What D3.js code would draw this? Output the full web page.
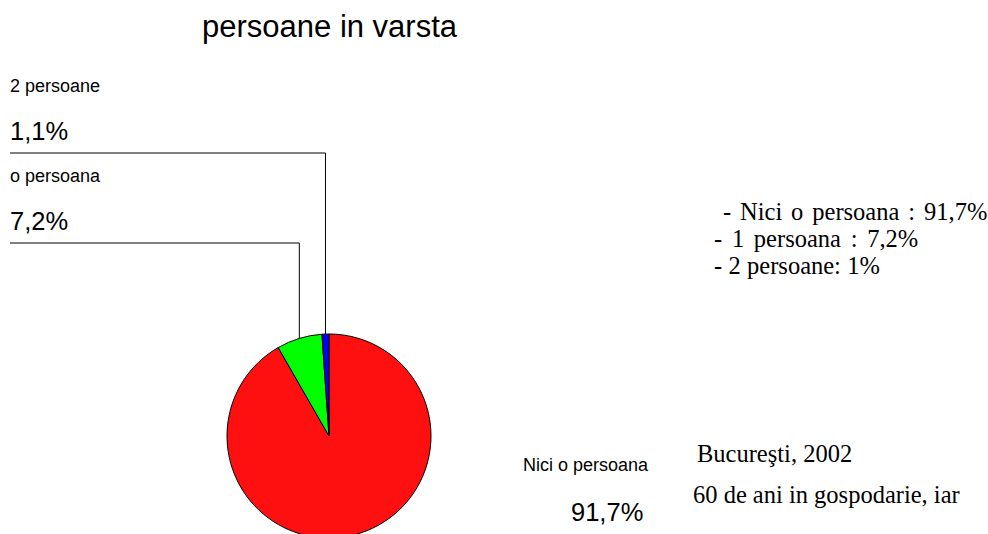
<!DOCTYPE html>
<html>
<head>
<meta charset="utf-8">
<script src="https://cdn.jsdelivr.net/npm/d3@7"></script>
<style>
  body { margin: 0; background: #fff; }
  svg { display: block; }
</style>
</head>
<body>
<div id="chart"></div>
<script>
// data
var categories = ["Nici o persoana", "1 persoana", "2 persoane"];
var values = [91.7, 7.2, 1.1];
var sliceLabels = ["Nici o persoana", "o persoana", "2 persoane"];
var pctLabels = ["91,7%", "7,2%", "1,1%"];
var colors = ["#ff1010", "#00ff00", "#0000ff"];
var noteLines = [" - Nici o persoana : 91,7%", "- 1 persoana : 7,2%", "- 2 persoane: 1%"];
var footLines = ["Bucureşti, 2002", "60 de ani in gospodarie, iar"];
var title = "persoane in varsta";

(function piechart() {
  var width = 988, height = 534;
  var cx = 329, cy = 436, radius = 102;
  var sans = "Liberation Sans, Arial, sans-serif";
  var serif = "Liberation Serif, Times New Roman, serif";

  var svg = d3.select("#chart").append("svg")
    .attr("width", width)
    .attr("height", height);

  svg.append("text")
    .attr("x", 202)
    .attr("y", 37)
    .attr("font-family", sans)
    .attr("font-size", 31)
    .attr("fill", "#000")
    .text(title);

  var data = categories.map(function(c, i) {
    return { name: c, value: values[i], label: sliceLabels[i], pct: pctLabels[i], color: colors[i] };
  });

  var pie = d3.pie()
    .sort(null)
    .value(function(d) { return d.value; });

  var arc = d3.arc().innerRadius(0).outerRadius(radius);
  var arcs = pie(data);

  var g = svg.append("g")
    .attr("transform", "translate(" + cx + "," + cy + ")");

  g.selectAll("path")
    .data(arcs)
    .enter().append("path")
    .attr("d", arc)
    .attr("fill", function(d) { return d.data.color; })
    .attr("stroke", "#000")
    .attr("stroke-width", 1);

  // leader lines for the two small slices
  var leaderY = { 1: 243, 2: 153 };
  [1, 2].forEach(function(i) {
    var a = (arcs[i].startAngle + arcs[i].endAngle) / 2;
    var px = cx + radius * Math.sin(a);
    var py = cy - radius * Math.cos(a);
    svg.append("polyline")
      .attr("points", [[px, py], [px, leaderY[i]], [10, leaderY[i]]].map(function(p) { return p.join(","); }).join(" "))
      .attr("fill", "none")
      .attr("stroke", "#000")
      .attr("stroke-width", 1);
  });

  var labelPos = [
    { x: 523, y: 471, px: 571, py: 521 },
    { x: 10, y: 182, px: 10, py: 230 },
    { x: 10, y: 92, px: 10, py: 140 }
  ];

  data.forEach(function(d, i) {
    svg.append("text")
      .attr("x", labelPos[i].x)
      .attr("y", labelPos[i].y)
      .attr("font-family", sans)
      .attr("font-size", 18)
      .text(d.label);
    svg.append("text")
      .attr("x", labelPos[i].px)
      .attr("y", labelPos[i].py)
      .attr("font-family", sans)
      .attr("font-size", 25.5)
      .text(d.pct);
  });

  var noteSpacing = [2.8, 3.6, 0.2];
  svg.selectAll(".note")
    .data(noteLines)
    .enter().append("text")
    .attr("class", "note")
    .attr("x", 714)
    .attr("y", function(d, i) { return 220 + i * 27; })
    .attr("font-family", serif)
    .attr("font-size", 24.5)
    .style("white-space", "pre")
    .style("word-spacing", function(d, i) { return noteSpacing[i] + "px"; })
    .text(function(d) { return d; });

  svg.selectAll(".foot")
    .data(footLines)
    .enter().append("text")
    .attr("class", "foot")
    .attr("x", function(d, i) { return i === 0 ? 697 : 693; })
    .attr("y", function(d, i) { return 462 + i * 41; })
    .attr("font-family", serif)
    .attr("font-size", 24.5)
    .text(function(d) { return d; });
})();
</script>
</body>
</html>
